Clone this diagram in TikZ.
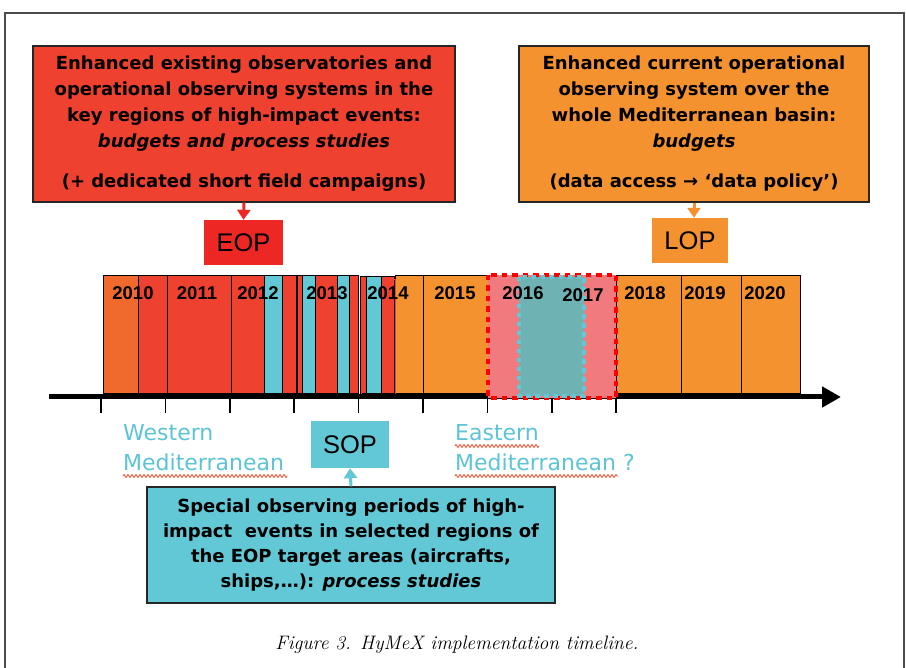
\documentclass[tikz,border=0pt]{standalone}
\usepackage{fontspec}
\newfontfamily\boxfont{DejaVu Sans}[ItalicFont={DejaVu Sans Oblique}, BoldItalicFont={DejaVu Sans Bold Oblique}]
\newfontfamily\yearfont{Liberation Sans}
\usetikzlibrary{positioning, arrows.meta, decorations.pathmorphing}

\definecolor{eopred}{RGB}{238,65,48}
\definecolor{eopbright}{RGB}{237,40,36}
\definecolor{loporange}{RGB}{245,146,48}
\definecolor{sopcyan}{RGB}{99,200,213}
\definecolor{firstorange}{RGB}{240,106,46}
\definecolor{pinkfill}{RGB}{240,122,126}
\definecolor{tealfill}{RGB}{110,178,180}
\definecolor{labelcyan}{RGB}{92,196,212}
\definecolor{wavyred}{RGB}{240,90,60}

\tikzset{
  infobox/.style={draw=black!85, line width=1.3pt, align=center, inner sep=0pt,
    font=\boxfont\bfseries\fontsize{18}{26}\selectfont},
  tagbox/.style={inner sep=0pt, font=\yearfont\fontsize{25.5}{30}\selectfont},
  bar/.style={draw=black, line width=1pt},
  yearlabel/.style={font=\yearfont\bfseries\fontsize{18.5}{20}\selectfont, text=black},
  regionlabel/.style={align=left, anchor=north west, text=labelcyan, inner sep=0pt,
    font=\boxfont\fontsize{22}{30}\selectfont},
  wavy/.style={wavyred, line width=0.9pt, decorate,
    decoration={zigzag, amplitude=1.5pt, segment length=4pt}},
  pointer/.style={line width=3pt, -{Triangle[length=10pt, width=13pt]}},
}

\begin{document}
\begin{tikzpicture}[x=1pt, y=-1pt]
    \useasboundingbox (0,0) rectangle (906,668);
    % Frame
    \draw[black!70, line width=1.3pt] (5,672) -- (5,13) -- (904,13) -- (904,672);

    % Upper boxes
    \node[infobox, fill=eopred, minimum width=422pt, minimum height=156pt] (eopinfo) at (244,124)
        {Enhanced existing observatories and\\ operational observing systems in the\\
         key regions of high-impact events:\\ \textit{budgets and process studies}\\[14pt]
         (+ dedicated short field campaigns)};
    \node[infobox, fill=loporange, minimum width=350pt, minimum height=156pt] (lopinfo) at (694,124)
        {Enhanced current operational\\ observing system over the\\
         whole Mediterranean basin:\\ \textit{budgets}\\[14pt]
         (data access → ‘data policy’)};
    \node[tagbox, fill=eopbright, minimum width=79pt, minimum height=45pt] (eop) at (243.5,242.5) {EOP};
    \node[tagbox, fill=loporange, minimum width=76pt, minimum height=45pt] (lop) at (690,240.5) {LOP};
    \draw[pointer, eopbright] (eopinfo.south) -- (eop.north);
    \draw[pointer, loporange] (lopinfo.south) -- (lopinfo.south |- lop.north);

    % Year bars
    \filldraw[bar, fill=firstorange] (103,276) rectangle (138,394);
    \foreach \a/\b/\c in {138/167/eopred, 167/231/eopred, 231/264/eopred, 264/282/sopcyan,
        282/296/eopred, 297/302/eopred, 302/315/sopcyan, 315/337/eopred, 337/349/sopcyan,
        349/358/eopred}
        \filldraw[bar, fill=\c] (\a,276) rectangle (\b,394);
    \foreach \a/\b in {395/423, 423/488, 488/616, 616/681, 681/741, 741/800}
        \filldraw[bar, fill=loporange] (\a,276) rectangle (\b,394);
    % 2014 campaign
    \filldraw[bar, fill=eopred] (360,277) rectangle (394,394);
    \draw[eopred, line width=1pt] (361,280) rectangle (395,397);
    \filldraw[bar, fill=sopcyan] (366,277) rectangle (381,394);

    % Axis
    \coordinate (axisstart) at (49,397);
    \coordinate (axisend) at (841,397);
    \draw[line width=5pt, -{Triangle[length=19pt, width=20pt]}] (axisstart) -- (axisend);
    \foreach \i in {0,...,8}
        \draw[line width=1.6pt] ({101+64.4*\i},397) -- ++(0,16);

    % Eastern campaign
    \fill[pinkfill] (488,275) rectangle (616,398);
    \draw[red, line width=3.5pt, dash pattern=on 5.5pt off 5pt] (488,275) rectangle (616,398);
    \fill[tealfill] (519,277) rectangle (584,396);
    \draw[sopcyan, line width=3.5pt, dash pattern=on 4.5pt off 4.5pt] (519,277) rectangle (584,396);

    % Years
    \foreach \yr/\xx in {2010/133, 2011/197, 2012/258, 2013/327, 2014/388, 2015/455,
        2016/523, 2018/645, 2019/705, 2020/765}
        \node[yearlabel] (y\yr) at (\xx,293) {\yr};
    \node[yearlabel] (y2017) at (583,295) {2017};

    % Lower part
    \node[regionlabel] (westlabel) at (123,424) {Western\\ Mediterranean};
    \node[regionlabel] (eastlabel) at (455,424) {Eastern\\ Mediterranean ?};
    \draw[wavy] (123,476) -- (287,476);
    \draw[wavy] (455,446) -- (539,446);
    \draw[wavy] (455,476) -- (618,476);
    \node[tagbox, fill=sopcyan, minimum width=78pt, minimum height=47pt] (sop) at (350,444.5) {SOP};
    \node[infobox, fill=sopcyan, minimum width=408pt, minimum height=116pt,
        font=\boxfont\bfseries\fontsize{18}{25}\selectfont] (sopinfo) at (351,545)
        {Special observing periods of high-\\ impact\ \ events in selected regions of\\
         the EOP target areas (aircrafts,\\ ships,…): \textit{process studies}};
    \draw[pointer, sopcyan] (sopinfo.north) -- (sop.south);

    % Caption
    \node[font=\fontsize{19.5}{22}\selectfont\itshape, text=black] (caption) at (457,645)
        {Figure 3. HyMeX implementation timeline.};
\end{tikzpicture}
\end{document}
